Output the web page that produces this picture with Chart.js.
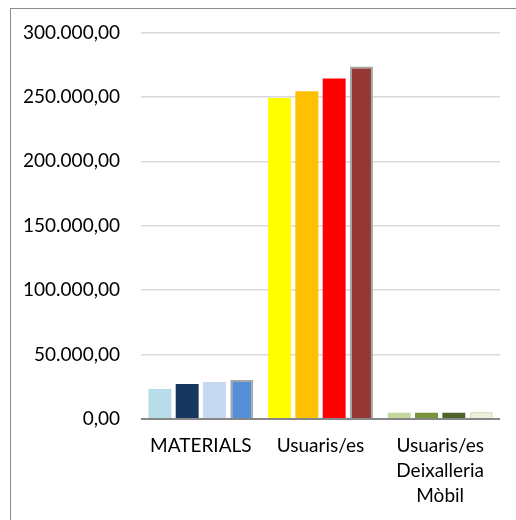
<!DOCTYPE html>
<html>
<head>
<meta charset="utf-8">
<script src="https://cdn.jsdelivr.net/npm/chart.js@4.4.1/dist/chart.umd.min.js"></script>
<style>
  html, body { margin: 0; padding: 0; background: #fff; overflow: hidden; }
  #wrap { position: relative; width: 516px; height: 520px; }
  #frame { position: absolute; left: 10px; top: 8px; width: 600px; height: 600px; border: 1px solid #8c8c8c; }
  canvas { position: absolute; left: 0; top: 0; }
</style>
</head>
<body>
<div id="wrap">
  <div id="frame"></div>
  <canvas id="chart" width="516" height="520"></canvas>
</div>
<script>
// categories on the x axis
const categories = ['MATERIALS', 'Usuaris/es', ['Usuaris/es', 'Deixalleria', 'Mòbil']];
// four series, one bar per category each
const serie1 = [23300, 249000, 4900];
const serie2 = [27100, 254300, 4900];
const serie3 = [28700, 264300, 4900];
const serie4 = [30200, 273600, 5600];
const seriesNames = ['Sèrie 1', 'Sèrie 2', 'Sèrie 3', 'Sèrie 4'];
const yTicks = [0, 50000, 100000, 150000, 200000, 250000, 300000];

// colours per bar (each category has its own palette)
const fills = [
    ['#B7DEE8', '#FFFF00', '#C3D69B'],
    ['#17375E', '#FFC000', '#77933C'],
    ['#C6D9F1', '#FF0000', '#4F6228'],
    ['#558ED5', '#953735', '#EBF1DE'],
];
const borders = [
    null, null, null,
    ['#A6A6A6', '#A6A6A6', '#D7E4BD'],
];

function fmt(v) {
    const s = Math.round(v).toString().replace(/\B(?=(\d{3})+(?!\d))/g, '.');
    return s + ',00';
}

const allSeries = [serie1, serie2, serie3, serie4];
const datasets = allSeries.map((d, i) => ({
    label: seriesNames[i],
    data: d,
    backgroundColor: fills[i],
    borderColor: borders[i] || fills[i],
    borderWidth: borders[i] ? 2 : 0,
    categoryPercentage: 0.913,
    barPercentage: 0.84,
}));

const ctx = document.getElementById('chart').getContext('2d');
new Chart(ctx, {
    type: 'bar',
    data: { labels: categories, datasets },
    options: {
        responsive: false,
        animation: false,
        layout: { padding: { left: 0, right: 16, top: 32, bottom: 0 } },
        plugins: { legend: { display: false }, tooltip: { enabled: false } },
        scales: {
            x: {
                grid: { display: false, drawTicks: false },
                border: { display: false },
                ticks: {
                    color: '#000',
                    font: { family: 'Lato', size: 19, lineHeight: 1.3 },
                    padding: 15,
                    maxRotation: 0,
                    autoSkip: false,
                },
                afterFit: (s) => { s.height = 520 - 419; },
            },
            y: {
                min: 0,
                max: 300000,
                afterBuildTicks: (s) => { s.ticks = yTicks.map(v => ({ value: v })); },
                grid: {
                    drawTicks: false,
                    color: (c) => c.tick && c.tick.value === 0 ? '#868686' : '#D9D9D9',
                    lineWidth: (c) => c.tick && c.tick.value === 0 ? 2 : 1.5,
                },
                border: { display: false },
                ticks: {
                    color: '#000',
                    font: { family: 'Lato', size: 19 },
                    padding: 21,
                    callback: (v) => fmt(v),
                },
                afterFit: (s) => { s.width = 141; },
            },
        },
    },
});
</script>
</body>
</html>
